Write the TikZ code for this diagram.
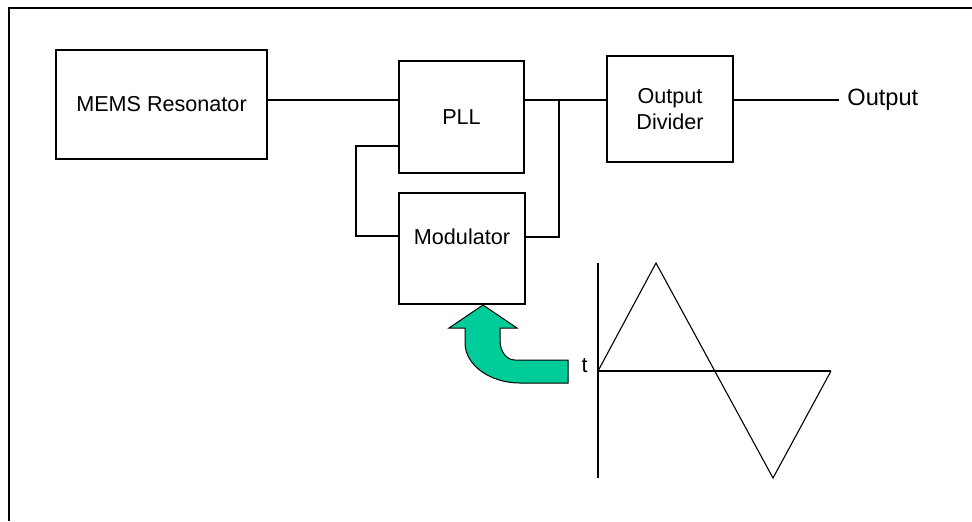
\documentclass[tikz,border=0pt]{standalone}
\usepackage{fontspec}
\setmainfont{Liberation Sans}
\usepackage{xcolor}
\usepackage{tikz}
\usetikzlibrary{positioning}
\definecolor{strzalka}{RGB}{0,204,153}

\begin{document}
\begin{tikzpicture}[x=0.5pt, y=-0.5pt,
    blok/.style={draw, line width=1pt, anchor=north west, align=center, inner sep=0pt, font=\fontsize{10.8}{12.6}\selectfont},
    linia/.style={line width=0.75pt},
    fala/.style={line width=0.55pt}]
            \useasboundingbox (0,0) rectangle (972,521);
            \draw[line width=1pt] (9,521) -- (9,8) -- (972,8);

            \node (mems) [blok, minimum width=105.5pt, minimum height=54.5pt] at (55,49) {MEMS Resonator};
            \node (pll) [blok, minimum width=62.5pt, minimum height=56pt] at (398,60) {PLL};
            \node (mod) [blok, minimum width=63pt, minimum height=55.5pt, text depth=12pt] at (398,192) {Modulator};
            \node (div) [blok, minimum width=63pt, minimum height=53pt] at (606,55) {Output\\Divider};
            \node (out) [anchor=west, inner xsep=4pt, inner ysep=0pt, font=\fontsize{11.8}{14}\selectfont] at (839,100) {Output};

            \coordinate (tap) at (559,100);
            \coordinate (fbtop) at (356,146);
            \coordinate (fbbot) at (356,236);

            \draw[linia] (mems.east |- tap) -- (pll.west |- tap);
            \draw[linia] (pll.east |- tap) -- (div.west |- tap);
            \draw[linia] (tap) |- (mod.east |- 0,237);
            \draw[linia] (div.east |- tap) -- (out.west);
            \draw[linia] (pll.west |- fbtop) -- (fbtop) -- (fbbot) -- (mod.west |- fbbot);

            \coordinate (tip) at (483,305);
            \draw[fill=strzalka, line width=0.5pt] (tip) -- (517,328) -- (500,328) -- (500,340)
                .. controls (500,351) and (506,360) .. (515,360) -- (568,360) -- (568,383) -- (520,383)
                .. controls (490,383) and (465,365) .. (465,343) -- (465,328) -- (449,328) -- cycle;

            \coordinate (o) at (598,371);
            \coordinate (otop) at (598,263);
            \coordinate (obot) at (598,478);
            \coordinate (oend) at (831,371);
            \coordinate (szczyt) at (656,263);
            \coordinate (dolina) at (773,478);
            \node (t) [anchor=east, inner sep=0pt, font=\fontsize{10.8}{12.6}\selectfont] at (588,366) {t};
            \draw[fala] (otop) -- (obot);
            \draw[fala] (o) -- (oend);
            \draw[fala] (o) -- (szczyt) -- (dolina) -- (oend);
        \end{tikzpicture}
\end{document}
